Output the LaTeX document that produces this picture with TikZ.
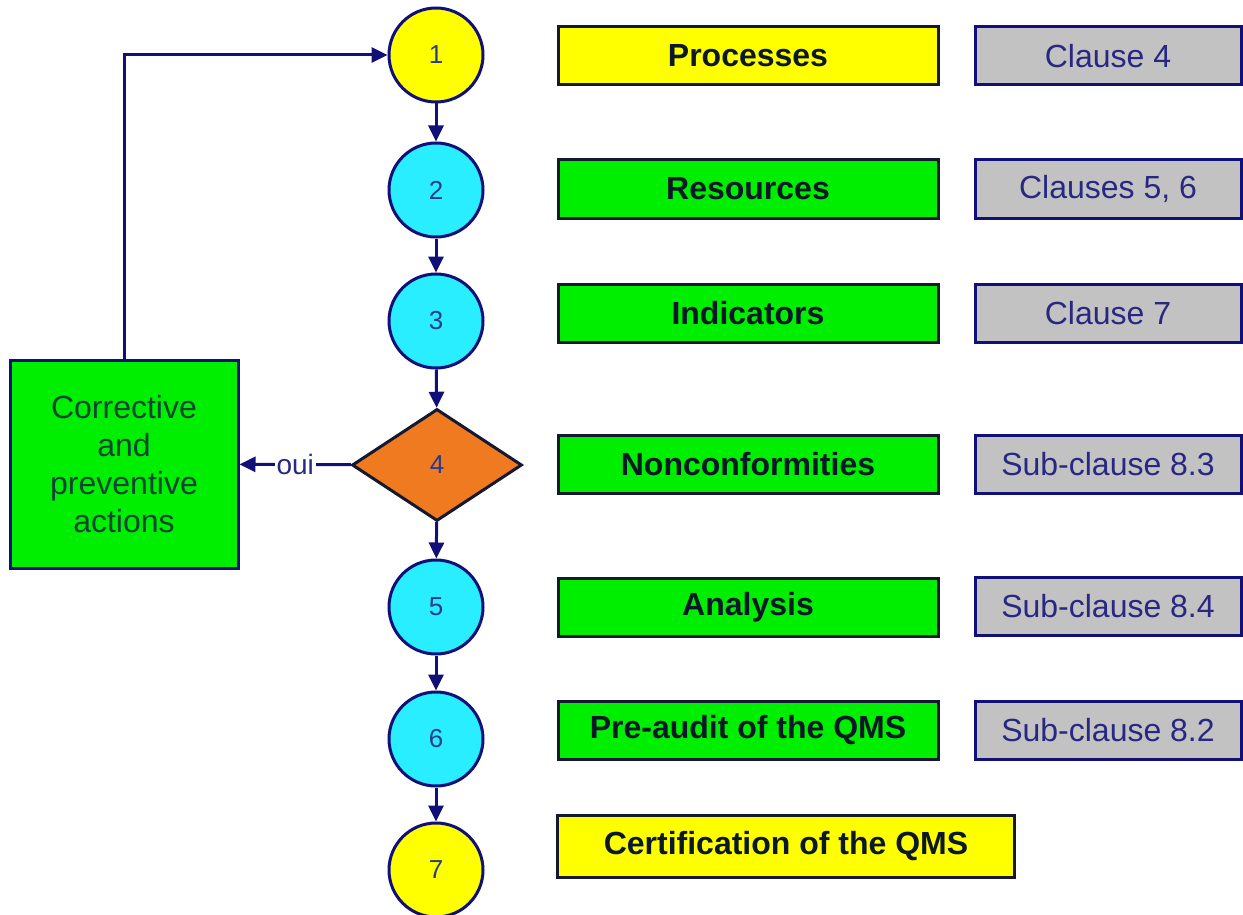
\documentclass[tikz,border=0pt]{standalone}
\usepackage{fontspec}
\setmainfont{Liberation Sans}
\usepackage{tikz}
\usetikzlibrary{shapes.geometric,arrows.meta}

\definecolor{navyline}{RGB}{16,16,120}
\definecolor{darkline}{RGB}{20,24,48}
\definecolor{yellowfill}{RGB}{255,255,0}
\definecolor{cyanfill}{RGB}{40,238,255}
\definecolor{greenfill}{RGB}{0,238,0}
\definecolor{orangefill}{RGB}{240,122,32}
\definecolor{greyfill}{RGB}{194,194,194}
\definecolor{numtext}{RGB}{40,60,140}
\definecolor{topictext}{RGB}{10,24,40}
\definecolor{clausetext}{RGB}{40,40,130}
\definecolor{actiontext}{RGB}{10,70,50}

\begin{document}
\begin{tikzpicture}[->,>={Triangle[length=8pt,width=7.5pt]},x=0.5pt,y=-0.5pt,
    line width=1.5pt,color=navyline,
    base/.style={circle,draw=navyline,fill=cyanfill,minimum size=47pt,inner sep=0pt,
        text=numtext,font=\fontsize{13}{15}\selectfont},
    decision/.style={diamond,draw=darkline,fill=orangefill,minimum width=85pt,
        minimum height=56pt,inner sep=0pt,text=numtext,font=\fontsize{13}{15}\selectfont},
    topic/.style={rectangle,draw=darkline,fill=greenfill,minimum width=190pt,
        minimum height=29pt,inner sep=0pt,text=topictext,font=\fontsize{16}{19}\selectfont\bfseries},
    clause/.style={rectangle,draw=navyline,fill=greyfill,minimum width=133pt,
        minimum height=29pt,inner sep=0pt,text=clausetext,font=\fontsize{16}{19}\selectfont},
    action/.style={rectangle,draw=navyline,fill=greenfill,minimum width=114pt,
        minimum height=104pt,align=center,text=actiontext,font=\fontsize{16}{18.9}\selectfont}]

    \fill[white] (0,0) rectangle (1243,915);
    \useasboundingbox (0,0) rectangle (1243,915);

    % steps
    \node[base,fill=yellowfill] (1) at (436,55) {1};
    \node[base] (2) at (436,190) {2};
    \node[base] (3) at (436,321) {3};
    \node[decision] (4) at (437,465) {4};
    \node[base] (5) at (436,607) {5};
    \node[base] (6) at (436,739) {6};
    \node[base,fill=yellowfill] (7) at (436,870) {7};

    \node[action] (ca) at (124,464)
    {Corrective\\and\\preventive\\actions};

    % topics
    \node[topic,fill=yellowfill] (t1) at (748,56) {Processes};
    \node[topic] (t2) at (748,189) {Resources};
    \node[topic] (t3) at (748,313) {Indicators};
    \node[topic] (t4) at (748,464) {Nonconformities};
    \node[topic] (t5) at (748,607) {Analysis};
    \node[topic] (t6) at (748,730) {Pre-audit of the QMS};
    \node[topic,fill=yellowfill,minimum width=228.5pt,minimum height=31pt] (t7)
    at (786,846) {Certification of the QMS};

    % clauses
    \node[clause] (c1) at (1108,56) {Clause 4};
    \node[clause] (c2) at (1108,189) {Clauses 5, 6};
    \node[clause] (c3) at (1108,313) {Clause 7};
    \node[clause] (c4) at (1108,464) {Sub-clause 8.3};
    \node[clause] (c5) at (1108,606) {Sub-clause 8.4};
    \node[clause] (c6) at (1108,730) {Sub-clause 8.2};

    \path[]
    {
        (1) edge (2)
        (2) edge (3)
        (3) edge (4)
        (4) edge (5)
        (5) edge (6)
        (6) edge (7)

        (4) edge node[fill=white,inner sep=1pt,text=clausetext,
            font=\fontsize{14}{16}\selectfont] {oui} (ca)
    };
    \draw (ca) |- (1);
\end{tikzpicture}
\end{document}
